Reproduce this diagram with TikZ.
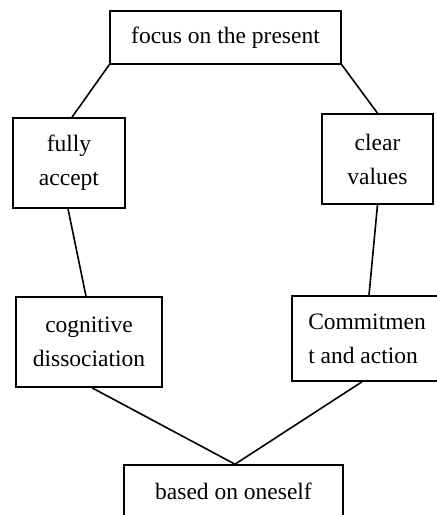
\documentclass[tikz,border=0pt]{standalone}
\usepackage{fontspec}
\setmainfont{Liberation Serif}
\usetikzlibrary{positioning}

\begin{document}
\begin{tikzpicture}[x=1pt,y=-1pt,line width=1.6pt,
    box/.style={rectangle,draw,inner sep=0pt,align=center,
      font=\fontsize{23.5}{34}\selectfont}]

  \useasboundingbox (0,0) rectangle (437,515);
  \clip (0,0) rectangle (437,515);

  \node[box,minimum width=231pt,minimum height=53pt] (focus)  at (225.5,37.5) {focus on the present};
  \node[box,minimum width=112pt,minimum height=90pt] (accept) at (69,163)     {fully\\accept};
  \node[box,minimum width=111pt,minimum height=90pt] (values) at (377.5,159)  {clear\\values};
  \node[box,minimum width=146pt,minimum height=90pt] (dissoc) at (89,342)     {cognitive\\dissociation};
  \node[box,minimum width=150pt,minimum height=85pt,align=left] (commit) at (367,338.5) {Commitmen\\t and action};
  \node[box,minimum width=219pt,minimum height=53pt] (self)   at (233.5,491.5) {based on oneself};

  \draw (focus.south west) -- ([xshift=3pt]accept.north);
  \draw (focus.south east) -- (values.north);
  \draw ([xshift=-1pt]accept.south) -- ([xshift=-3pt]dissoc.north);
  \draw (values.south) -- ([xshift=2pt]commit.north);
  \draw ([xshift=3pt]dissoc.south) -- ([xshift=1.5pt]self.north);
  \draw ([xshift=-5pt]commit.south) -- ([xshift=1.5pt]self.north);
\end{tikzpicture}
\end{document}
